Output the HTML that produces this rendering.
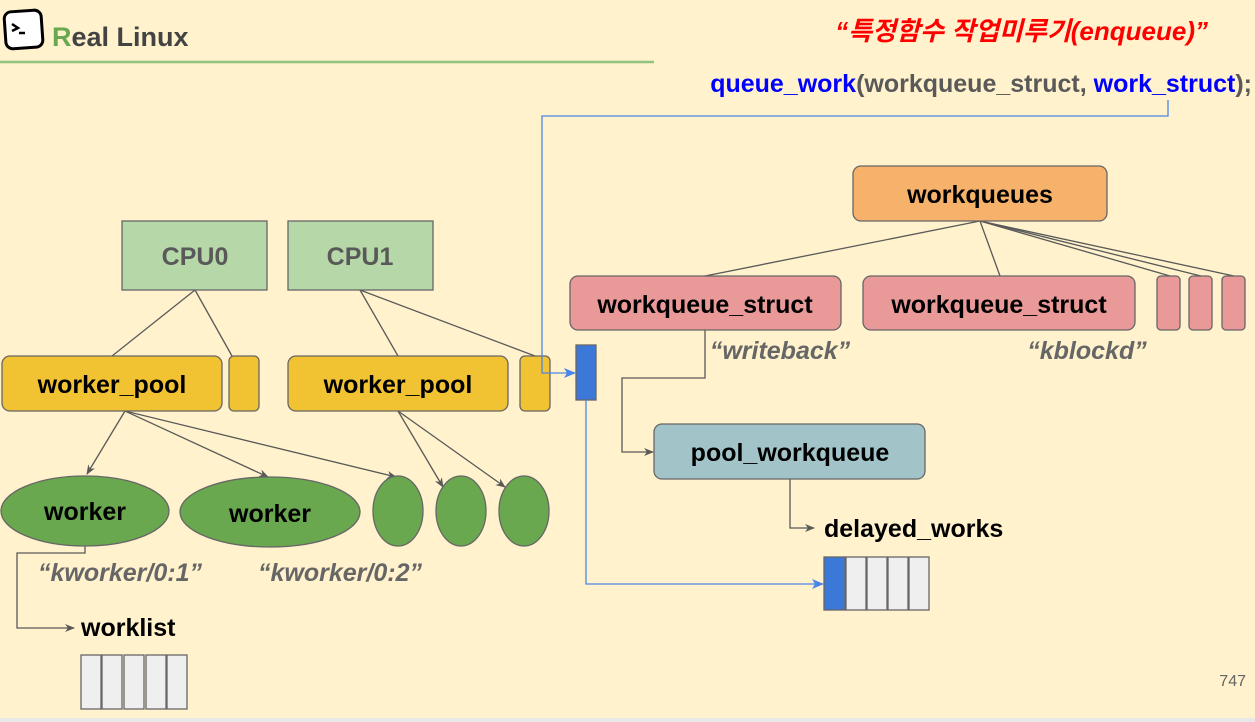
<!DOCTYPE html>
<html><head><meta charset="utf-8"><style>
html,body{margin:0;padding:0;background:#fff2cc;}
svg{display:block;font-family:"Liberation Sans","Noto Sans CJK KR",sans-serif;}
</style></head><body>
<svg width="1255" height="722" viewBox="0 0 1255 722" xmlns="http://www.w3.org/2000/svg">
<defs>
<marker id="ag" markerWidth="10" markerHeight="8" refX="9" refY="4" orient="auto" markerUnits="userSpaceOnUse"><path d="M0,0 L10,4 L0,8 L3,4 z" fill="#595959"/></marker>
<marker id="ab" markerWidth="12" markerHeight="10" refX="11" refY="5" orient="auto" markerUnits="userSpaceOnUse"><path d="M0,0 L12,5 L0,10 L3,5 z" fill="#4a86e8"/></marker>
</defs>
<rect width="1255" height="722" fill="#fff2cc"/>
<rect x="0" y="718" width="1255" height="4" fill="#e8e8e8"/>
<rect x="5" y="11" width="37" height="37" rx="7" fill="#fff" stroke="#000" stroke-width="3" transform="rotate(-4 23 29)"/>
<path d="M12,24 L18,28 L12,31" fill="none" stroke="#000" stroke-width="2.5"/>
<line x1="19" y1="33" x2="25" y2="33" stroke="#000" stroke-width="2.5"/>
<text x="52" y="46" font-size="27" font-weight="bold" fill="#434343"><tspan fill="#6aa84f">R</tspan>eal Linux</text>
<line x1="0" y1="62" x2="654" y2="62" stroke="#93c47d" stroke-width="2.5"/>
<text x="1208" y="40" font-size="26" font-weight="bold" font-style="italic" fill="#ff0000" text-anchor="end">“특정함수 작업미루기(enqueue)”</text>
<text x="1252" y="92" font-size="25" font-weight="bold" text-anchor="end" fill="#595959"><tspan fill="#0000ff">queue_work</tspan>(workqueue_struct, <tspan fill="#0000ff">work_struct</tspan>);</text>
<g stroke="#595959" stroke-width="1.3" fill="none">
<line x1="195" y1="290" x2="112" y2="356"/><line x1="195" y1="290" x2="232" y2="356"/>
<line x1="360" y1="290" x2="398" y2="356"/><line x1="360" y1="290" x2="535" y2="356"/>
<line x1="125" y1="411" x2="87" y2="474" marker-end="url(#ag)"/>
<line x1="125" y1="411" x2="268" y2="477" marker-end="url(#ag)"/>
<line x1="125" y1="411" x2="396" y2="477" marker-end="url(#ag)"/>
<line x1="398" y1="411" x2="443" y2="487" marker-end="url(#ag)"/>
<line x1="398" y1="411" x2="505" y2="487" marker-end="url(#ag)"/>
<line x1="980" y1="221" x2="705" y2="276"/><line x1="980" y1="221" x2="1000" y2="276"/>
<line x1="980" y1="221" x2="1170" y2="276"/><line x1="980" y1="221" x2="1201" y2="276"/><line x1="980" y1="221" x2="1234" y2="276"/>
<polyline points="705,330 705,378 622,378 622,452 653,452" marker-end="url(#ag)"/>
<polyline points="790,479 790,528 814,528" marker-end="url(#ag)"/>
<polyline points="85,546 85,553 17,553 17,628 74,628" marker-end="url(#ag)"/>
</g>
<g stroke="#666" stroke-width="1.3">
<rect x="122" y="221" width="145" height="69" fill="#b6d7a8"/>
<rect x="288" y="221" width="145" height="69" fill="#b6d7a8"/>
<rect x="2" y="356" width="220" height="55" rx="8" fill="#f1c232"/>
<rect x="229" y="356" width="30" height="55" rx="5" fill="#f1c232"/>
<rect x="288" y="356" width="220" height="55" rx="8" fill="#f1c232"/>
<rect x="520" y="356" width="30" height="55" rx="5" fill="#f1c232"/>
<rect x="576" y="345" width="20" height="55" fill="#3c78d8"/>
<rect x="853" y="166" width="254" height="55" rx="8" fill="#f6b26b"/>
<rect x="570" y="276" width="271" height="54" rx="8" fill="#ea9999"/>
<rect x="863" y="276" width="272" height="54" rx="8" fill="#ea9999"/>
<rect x="1157" y="276" width="23" height="54" rx="4" fill="#ea9999"/>
<rect x="1189" y="276" width="23" height="54" rx="4" fill="#ea9999"/>
<rect x="1222" y="276" width="23" height="54" rx="4" fill="#ea9999"/>
<rect x="654" y="424" width="271" height="55" rx="8" fill="#a2c4c9"/>
<ellipse cx="85" cy="511" rx="84" ry="35" fill="#6aa84f"/>
<ellipse cx="270" cy="512" rx="90" ry="35" fill="#6aa84f"/>
<ellipse cx="398" cy="511" rx="25" ry="35" fill="#6aa84f"/>
<ellipse cx="461" cy="511" rx="25" ry="35" fill="#6aa84f"/>
<ellipse cx="524" cy="511" rx="25" ry="35" fill="#6aa84f"/>
<rect x="824" y="557" width="21" height="53" fill="#3c78d8"/>
<rect x="846" y="557" width="20" height="53" fill="#efefef"/>
<rect x="867" y="557" width="20" height="53" fill="#efefef"/>
<rect x="888" y="557" width="20" height="53" fill="#efefef"/>
<rect x="909" y="557" width="20" height="53" fill="#efefef"/>
<rect x="81" y="655" width="20" height="54" fill="#efefef"/>
<rect x="102" y="655" width="20" height="54" fill="#efefef"/>
<rect x="124" y="655" width="20" height="54" fill="#efefef"/>
<rect x="146" y="655" width="20" height="54" fill="#efefef"/>
<rect x="167" y="655" width="20" height="54" fill="#efefef"/>
</g>
<g stroke="#4a86e8" stroke-width="1.3" fill="none">
<polyline points="1168,100 1168,116 542,116 542,373 575,373" marker-end="url(#ab)"/>
<polyline points="586,400 586,584 823,584" marker-end="url(#ab)"/>
</g>
<g font-weight="bold" font-size="25" text-anchor="middle">
<text x="195" y="265" fill="#595959">CPU0</text>
<text x="360" y="265" fill="#595959">CPU1</text>
<text x="112" y="393">worker_pool</text>
<text x="398" y="393">worker_pool</text>
<text x="980" y="203">workqueues</text>
<text x="705" y="313">workqueue_struct</text>
<text x="999" y="313">workqueue_struct</text>
<text x="790" y="461">pool_workqueue</text>
<text x="85" y="520">worker</text>
<text x="270" y="522">worker</text>
<text x="824" y="537" text-anchor="start">delayed_works</text>
<text x="81" y="636" text-anchor="start">worklist</text>
</g>
<g font-weight="bold" font-style="italic" font-size="25" fill="#666" text-anchor="middle">
<text x="780" y="359">“writeback”</text>
<text x="1087" y="359">“kblockd”</text>
<text x="120" y="581">“kworker/0:1”</text>
<text x="340" y="581">“kworker/0:2”</text>
</g>
<text x="1246" y="686" font-size="16" fill="#666" text-anchor="end">747</text>
</svg>
</body></html>
